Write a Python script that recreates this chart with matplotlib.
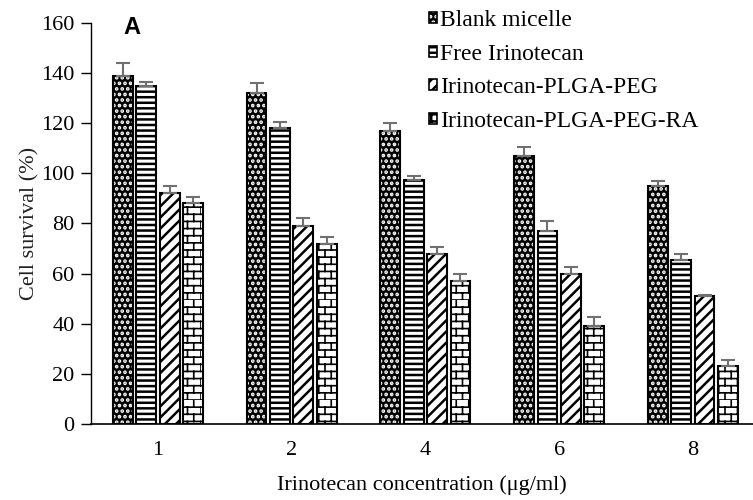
import warnings
import numpy as np
import matplotlib.pyplot as plt
from matplotlib import hatch as mhatch
from matplotlib.path import Path
from matplotlib.patches import Patch

warnings.filterwarnings('ignore')

plt.rcParams['font.family'] = ['Liberation Serif', 'DejaVu Serif']
plt.rcParams['hatch.linewidth'] = 1.8


# brick hatch, used with the letter 'b'
class BrickHatch(mhatch.HatchPatternBase):
    def __init__(self, hatch, density):
        self.rows = hatch.count('b') * 7
        self.cols = 8
        self.num_vertices = (self.rows + self.rows * self.cols) * 2

    def set_vertices_and_codes(self, vertices, codes):
        k = 0
        for i in range(self.rows):
            y0 = i / self.rows
            y1 = (i + 1) / self.rows
            vertices[k] = (0, y0)
            vertices[k + 1] = (1, y0)
            k += 2
            off = 0.5 * (i % 2)
            for j in range(self.cols):
                xv = (j + off) / self.cols
                vertices[k] = (xv, y0)
                vertices[k + 1] = (xv, y1)
                k += 2
        codes[0::2] = Path.MOVETO
        codes[1::2] = Path.LINETO


mhatch._hatch_types.append(BrickHatch)

concentrations = ['1', '2', '4', '6', '8']
labels = ['Blank micelle', 'Free Irinotecan', 'Irinotecan-PLGA-PEG', 'Irinotecan-PLGA-PEG-RA']

blank = [139, 132, 117, 107, 95]
blank_err = [5, 4, 3, 3.5, 2]
free = [135, 118, 97.5, 77, 65.5]
free_err = [1.5, 2.5, 1.5, 4, 2.5]
plga = [92, 79, 68, 60, 51]
plga_err = [3, 3, 2.5, 2.5, 0.5]
plga_ra = [88, 72, 57, 39, 23]
plga_ra_err = [2.5, 2.5, 3, 3.5, 2.5]

series = [blank, free, plga, plga_ra]
errors = [blank_err, free_err, plga_err, plga_ra_err]
hatches = ['...', '---', '///', 'bb']
hatch_lw = [1.8, 1.8, 1.8, 1.2]
faces = ['black', 'white', 'white', 'white']
hatch_cols = ['white', 'black', 'black', 'black']

fig = plt.figure(figsize=(7.53, 5.0), dpi=100)
ax = fig.add_axes([0.121, 0.152, 0.879, 0.802])

x = np.arange(len(concentrations))
width = 0.148
step = 0.175

for i, (vals, errs) in enumerate(zip(series, errors)):
    pos = x + (i - 1.5) * step
    # hatched fill first, then outline on top
    bars = ax.bar(pos, vals, width, color=faces[i], edgecolor=hatch_cols[i], hatch=hatches[i], linewidth=0)
    for b in bars:
        if hasattr(b, 'set_hatch_linewidth'):
            b.set_hatch_linewidth(hatch_lw[i])
    ax.bar(pos, vals, width, fill=False, edgecolor='black', linewidth=1.5)
    ax.errorbar(pos, vals, yerr=[np.zeros(len(errs)), errs], fmt='none',
                ecolor='#707070', elinewidth=1.5, capsize=5, capthick=1.5)

ax.set_xlim(-0.5, 4.45)
ax.set_ylim(0, 160)
ax.set_yticks(range(0, 161, 20))
ax.set_xticks(x)
ax.set_xticklabels(concentrations)
ax.tick_params(axis='x', length=0, pad=12, labelsize=16)
ax.tick_params(axis='y', length=7, width=1, direction='out', labelsize=16, pad=5)
for s in ['top', 'right']:
    ax.spines[s].set_visible(False)
ax.spines['left'].set_linewidth(1)
ax.spines['bottom'].set_linewidth(1.2)

ax.set_ylabel('Cell survival (%)', fontsize=16, labelpad=1, color='#222222')
ax.set_xlabel('Irinotecan concentration (μg/ml)', fontsize=16, labelpad=11)

ax.text(0.062, 1.018, 'A', transform=ax.transAxes, fontsize=17, fontweight='bold',
        family='Liberation Sans', va='top', ha='center')

handles = [Patch(facecolor=faces[i], edgecolor=hatch_cols[i], hatch=hatches[i], linewidth=0)
           for i in range(4)]
outline = [Patch(fill=False, edgecolor='black', linewidth=1.2) for _ in range(4)]
leg = fig.legend([(h, o) for h, o in zip(handles, outline)], labels, loc='upper left',
                 bbox_to_anchor=(0.541, 1.022), frameon=False, fontsize=17,
                 handlelength=0.35, handleheight=0.35, handletextpad=0.15, labelspacing=0.53)

fig.savefig('out.png', dpi=100)
